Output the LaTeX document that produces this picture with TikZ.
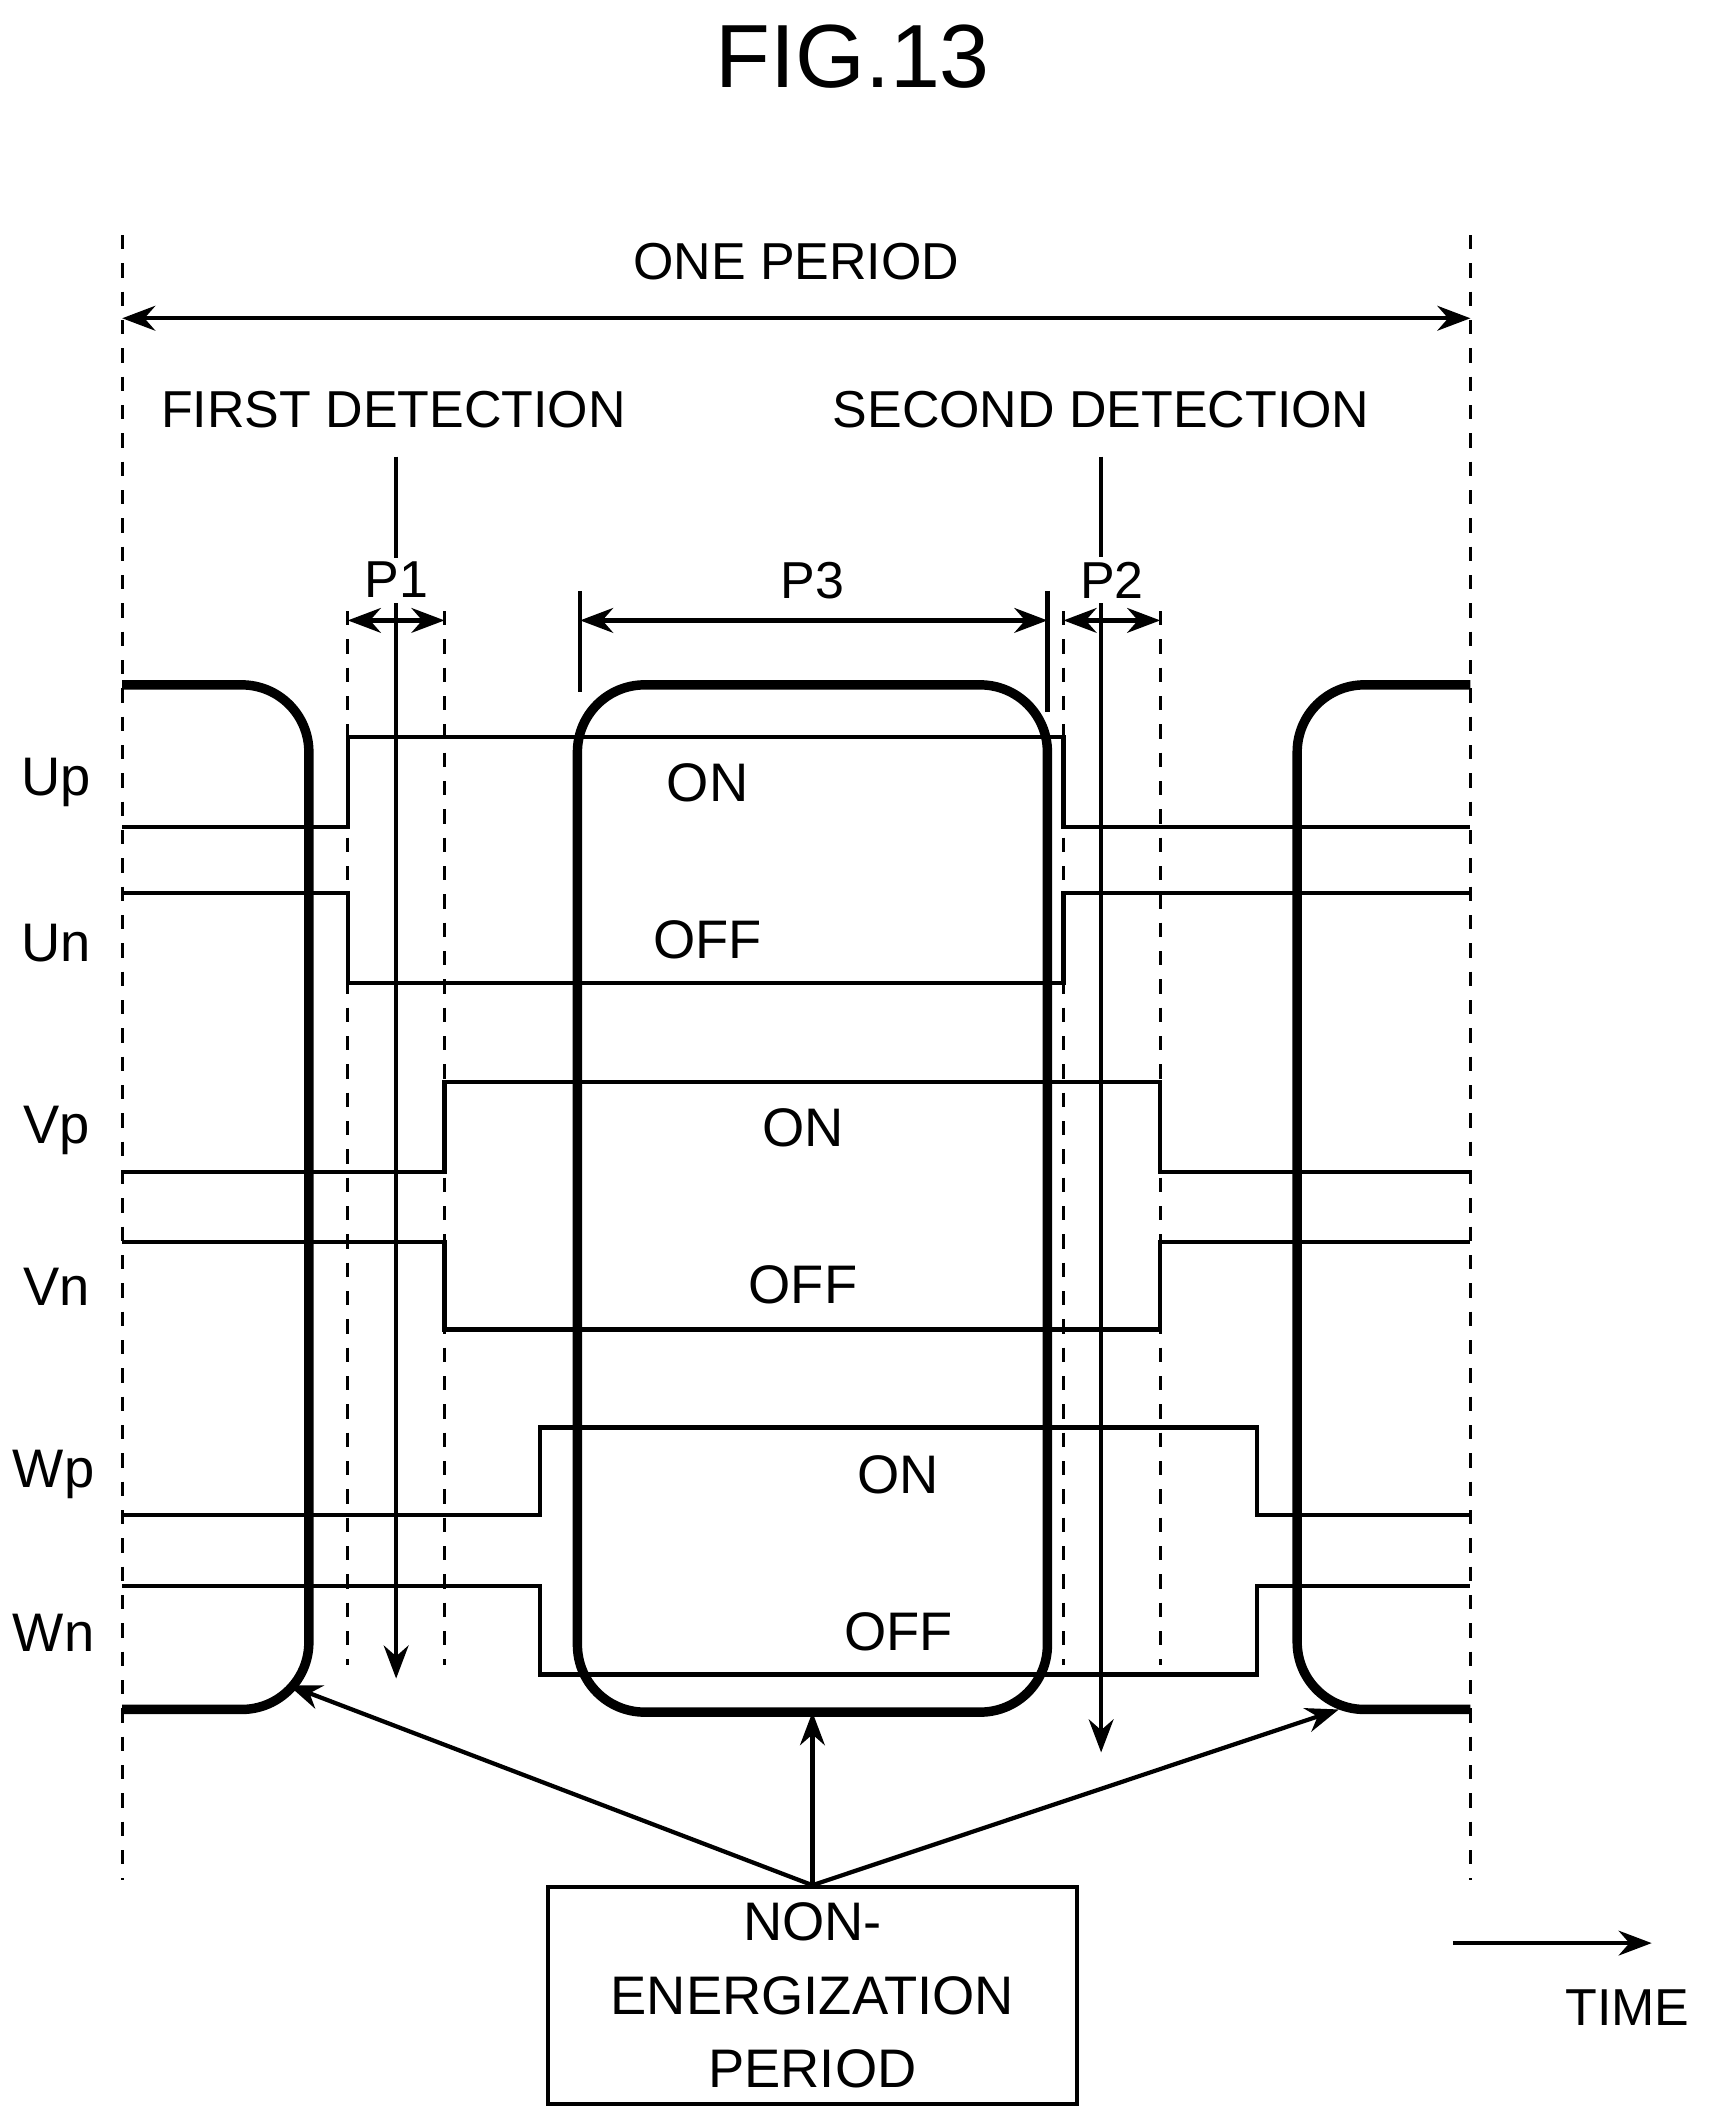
\documentclass[tikz,border=0pt]{standalone}
\usepackage{fontspec}
\setmainfont{Liberation Sans}
\usetikzlibrary{arrows.meta}
\begin{document}
\begin{tikzpicture}[x=0.01cm,y=-0.01cm,
  sig/.style={line width=0.9pt},
  frame/.style={line width=2pt,rounded corners=0.5cm},
  guide/.style={dashed,line width=0.6pt},
  dim/.style={line width=0.9pt,{Stealth[length=7pt]}-{Stealth[length=7pt]}},
  pt/.style={line width=0.9pt,-{Stealth[length=7pt]}},
  lbl/.style={font=\fontsize{11.5}{14}\selectfont},
  txt/.style={font=\fontsize{11}{14}\selectfont}]
\useasboundingbox (0,0) rectangle (1280,1578);
\node[font=\fontsize{19}{22}\selectfont] (title) at (635,42) {FIG.13};
% period limits
\draw[guide] (91,175) -- (91,1400) (1095,175) -- (1095,1400);
\node[txt] (period) at (593,195) {ONE PERIOD};
\coordinate (pl) at (91,237); \coordinate (pr) at (1095,237);
\draw[dim] (pl) -- (pr);
% detections
\node[txt] (det1) at (293,305) {FIRST DETECTION};
\node[txt] (det2) at (820,305) {SECOND DETECTION};
\coordinate (d1a) at (295,340); \coordinate (d1b) at (295,1250);
\coordinate (d2a) at (820,340); \coordinate (d2b) at (820,1305);
\draw[pt] (d1a) -- (d1b);
\draw[pt] (d2a) -- (d2b);
% intervals
\draw[guide] (259,455) -- (259,1240) (331,455) -- (331,1240)
             (792,455) -- (792,1240) (864,455) -- (864,1240);
\node[txt,fill=white,inner sep=1pt] (p1) at (295,432) {P1};
\node[txt] (p3) at (605,432) {P3};
\node[txt,fill=white,inner sep=1pt] (p2) at (828,432) {P2};
\draw[dim] (259,462) -- (331,462);
\draw[dim] (792,462) -- (864,462);
\draw[dim] (432,462) -- (780,462);
\draw[sig] (432,440) -- (432,515) (780,440) -- (780,530);
% signals
\draw[sig] (91,616) -- (259,616) -- (259,549) -- (792,549) -- (792,616) -- (1095,616);
\draw[sig] (91,665) -- (259,665) -- (259,732) -- (792,732) -- (792,665) -- (1095,665);
\draw[sig] (91,873) -- (331,873) -- (331,806) -- (864,806) -- (864,873) -- (1095,873);
\draw[sig] (91,925) -- (331,925) -- (331,990) -- (864,990) -- (864,925) -- (1095,925);
\draw[sig] (91,1128) -- (402,1128) -- (402,1063) -- (936,1063) -- (936,1128) -- (1095,1128);
\draw[sig] (91,1181) -- (402,1181) -- (402,1247) -- (936,1247) -- (936,1181) -- (1095,1181);
\node[lbl] (up) at (42,583) {Up};
\node[lbl] (un) at (42,702) {Un};
\node[lbl] (vp) at (42,842) {Vp};
\node[lbl] (vn) at (42,958) {Vn};
\node[lbl] (wp) at (40,1098) {Wp};
\node[lbl] (wn) at (40,1216) {Wn};
\node[lbl] (uon) at (527,583) {ON};
\node[lbl] (uoff) at (527,700) {OFF};
\node[lbl] (von) at (598,840) {ON};
\node[lbl] (voff) at (598,957) {OFF};
\node[lbl] (won) at (669,1098) {ON};
\node[lbl] (woff) at (669,1215) {OFF};
% non-energization frames
\draw[frame] (91,510) -- (230,510) -- (230,1273) -- (91,1273);
\draw[frame] (1095,510) -- (966,510) -- (966,1273) -- (1095,1273);
\draw[frame] (430,510) rectangle (780,1275);
\node[draw,line width=0.9pt,minimum width=3.94cm,minimum height=1.32cm,
  align=center,font=\fontsize{11.5}{15.5}\selectfont] (non) at (605,1486)
  {NON-\\ENERGIZATION\\PERIOD};
\coordinate (fl) at (215,1255); \coordinate (fm) at (605,1275); \coordinate (fr) at (997,1273);
\draw[pt] (non.north) -- (fl);
\draw[pt] (non.north) -- (fm);
\draw[pt] (non.north) -- (fr);
% time
\coordinate (t0) at (1082,1447); \coordinate (t1) at (1230,1447);
\draw[pt] (t0) -- (t1);
\node[txt] (time) at (1212,1495) {TIME};
\end{tikzpicture}
\end{document}
